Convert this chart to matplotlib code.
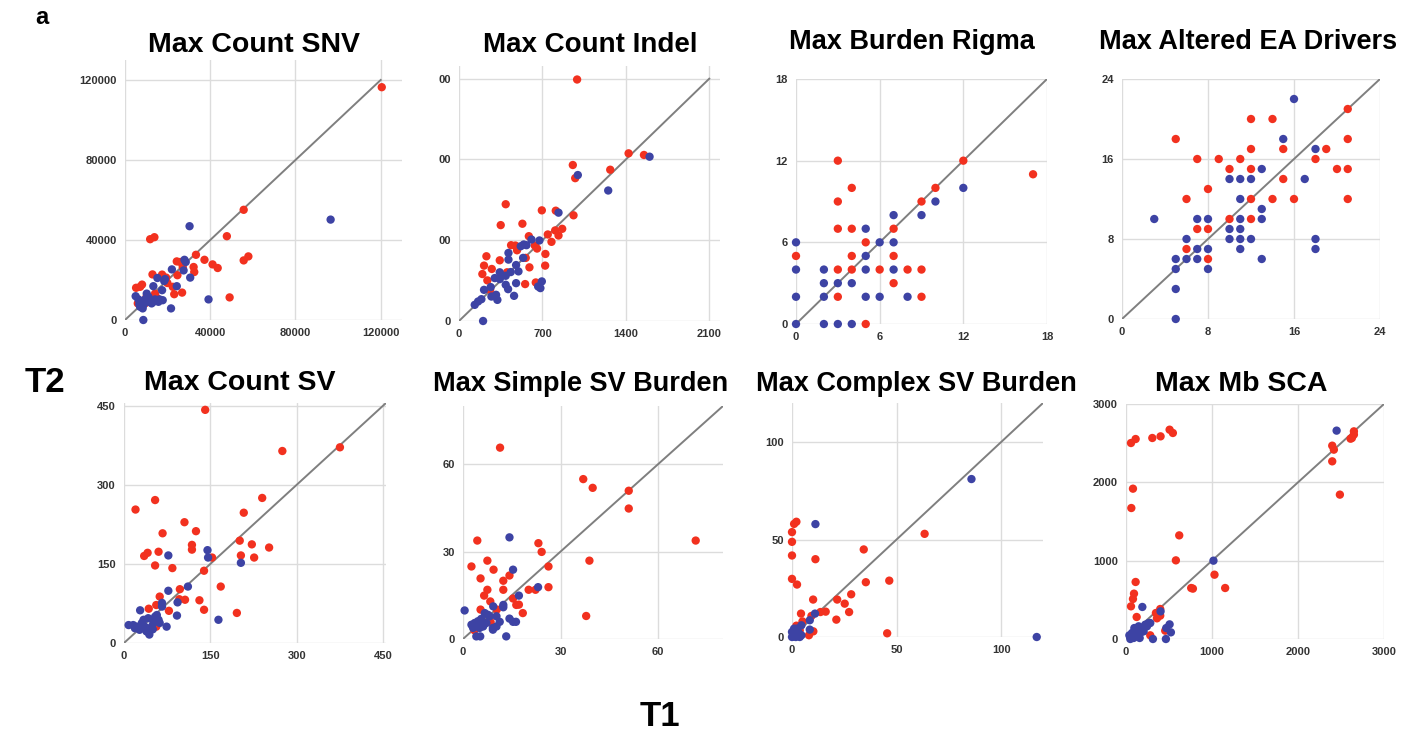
import numpy as np
import matplotlib
matplotlib.use("Agg")
import matplotlib.pyplot as plt

plt.rcParams['font.family'] = ['Liberation Sans', 'DejaVu Sans']

RED = '#f2311f'
BLUE = '#3d43a4'

# ---- Max Count SNV ----
snv_red_x = [120500, 55700, 47800, 11800, 13800, 33300, 37300, 41100, 43500, 55700, 57900, 32200,
             32500, 24300, 25900, 27100, 12900, 17400, 19300, 24600, 22400, 23100, 26800, 19900,
             5200, 8000, 7100, 49100, 14100, 10200, 12500, 9400, 14900, 6000]
snv_red_y = [116400, 55100, 41900, 40400, 41400, 32600, 30100, 27800, 26000, 29800, 31800, 26500,
             24000, 29300, 29000, 26500, 22800, 22700, 21200, 22400, 16600, 12900, 13700, 18500,
             16100, 17700, 16600, 11300, 13200, 11900, 9900, 8300, 11100, 8300]
snv_blue_x = [96500, 30300, 27900, 28500, 27500, 22000, 30600, 15200, 18400, 18800, 24300, 13300,
              17400, 39200, 21600, 8600, 5000, 6300, 7800, 9400, 11000, 12500, 14100, 15700, 17700,
              7100, 8600, 11000, 13300, 16200, 10200, 8300, 6700]
snv_blue_y = [50200, 46900, 30100, 29000, 24800, 25300, 21200, 21000, 19500, 20500, 16900, 16900,
              14900, 10300, 5800, 0, 11900, 10300, 9100, 10300, 9100, 8300, 10300, 9100, 9900,
              6600, 7500, 11600, 9100, 10300, 13200, 5800, 7900]

# ---- Max Count Indel ----
indel_red_x = [991, 1423, 1552, 1269, 955, 975, 392, 695, 812, 961, 350, 532, 586, 745, 807, 866,
               835, 776, 437, 473, 487, 636, 655, 725, 230, 210, 342, 275, 196, 238, 403, 560, 591,
               723, 644, 555, 261]
indel_red_y = [2093, 1453, 1439, 1311, 1352, 1238, 1012, 959, 956, 916, 831, 843, 735, 750, 785,
               799, 741, 686, 657, 654, 613, 654, 628, 581, 561, 480, 526, 451, 407, 352, 422, 547,
               465, 480, 334, 320, 270]
indel_blue_x = [1599, 997, 1252, 835, 608, 675, 543, 566, 518, 415, 538, 415, 479, 499, 342, 434,
                300, 392, 342, 695, 664, 683, 479, 392, 412, 462, 266, 210, 311, 322, 272, 188,
                160, 132, 202, 353]
indel_blue_y = [1424, 1265, 1131, 939, 706, 698, 663, 657, 648, 590, 547, 532, 485, 430, 422, 424,
                372, 392, 363, 343, 299, 285, 328, 314, 276, 218, 294, 270, 227, 183, 212, 189,
                169, 140, 0, 392]

# ---- Max Burden Rigma ----
rigma_red_x = [3, 4, 3, 3, 4, 0, 4, 5, 3, 4, 6, 7, 7, 7, 8, 9, 9, 10, 12, 17, 3, 9, 5]
rigma_red_y = [12, 10, 9, 7, 7, 5, 5, 6, 4, 4, 4, 5, 7, 3, 4, 4, 9, 10, 12, 11, 2, 2, 0]
rigma_blue_x = [0, 0, 0, 0, 2, 2, 2, 2, 3, 3, 4, 4, 5, 5, 5, 5, 6, 6, 7, 7, 7, 8, 9, 10, 12]
rigma_blue_y = [6, 4, 2, 0, 4, 3, 2, 0, 3, 0, 3, 0, 7, 5, 4, 2, 6, 2, 8, 6, 4, 2, 8, 9, 10]

# ---- Max Altered EA Drivers ----
ea_red_x = [5, 6, 7, 8, 7, 8, 6, 8, 9, 10, 10, 11, 12, 12, 12, 12, 12, 14, 14, 15, 15, 16, 18,
            19, 20, 21, 21, 21, 21]
ea_red_y = [18, 12, 16, 13, 9, 9, 7, 6, 16, 15, 10, 16, 20, 17, 15, 12, 10, 20, 12, 17, 14, 12,
            16, 17, 15, 21, 18, 15, 12]
ea_blue_x = [3, 5, 5, 5, 5, 6, 6, 7, 7, 7, 8, 8, 8, 10, 10, 10, 11, 11, 11, 11, 11, 11, 12, 12,
             13, 13, 13, 13, 15, 16, 17, 18, 18, 18]
ea_blue_y = [10, 6, 5, 3, 0, 8, 6, 10, 7, 6, 10, 7, 5, 14, 9, 8, 14, 12, 10, 9, 8, 7, 14, 8, 15,
             11, 10, 6, 18, 22, 14, 17, 8, 7]

# ---- Max Count SV ----
sv_red_x = [141, 275, 375, 240, 208, 20, 54, 105, 125, 67, 118, 118, 201, 222, 252, 203, 226, 153,
            35, 41, 60, 54, 84, 139, 168, 97, 106, 96, 131, 139, 196, 62, 78, 43, 56, 56, 52]
sv_red_y = [442, 364, 371, 275, 247, 253, 271, 229, 212, 208, 186, 177, 194, 187, 181, 166, 162,
            162, 165, 171, 173, 147, 142, 137, 107, 102, 82, 83, 81, 63, 57, 88, 61, 65, 72, 31, 44]
sv_blue_x = [145, 146, 77, 203, 77, 111, 93, 92, 66, 66, 164, 74, 8, 16, 22, 27, 31, 36, 39, 44,
             48, 51, 54, 60, 62, 57, 42, 34, 28, 19, 50]
sv_blue_y = [176, 162, 166, 152, 99, 107, 77, 52, 76, 69, 44, 31, 34, 34, 31, 25, 38, 31, 22, 16,
             31, 38, 50, 44, 38, 53, 47, 44, 62, 28, 26]

# ---- Max Simple SV Burden ----
simple_red_x = [11.4, 37.0, 39.9, 51.0, 51.0, 71.6, 4.4, 23.2, 24.2, 38.9, 2.6, 7.5, 9.4, 26.3,
                5.4, 14.3, 12.4, 12.4, 7.5, 20.2, 22.3, 26.3, 6.5, 8.4, 15.4, 16.4, 17.2, 18.4,
                37.9, 5.4, 10.4, 3.5, 8.5]
simple_red_y = [65.7, 54.9, 51.9, 50.9, 44.8, 33.8, 33.8, 32.9, 29.9, 26.9, 24.9, 26.9, 23.8, 24.9,
                20.8, 21.8, 20.0, 16.9, 16.9, 16.9, 16.9, 17.8, 14.9, 12.9, 13.9, 11.7, 11.8, 8.9,
                7.9, 10.1, 10.1, 3.0, 5.8]
simple_blue_x = [14.3, 15.4, 17.2, 23.1, 0.5, 12.4, 12.4, 14.3, 15.4, 16.3, 13.3, 9.3, 10.3, 2.6,
                 3.6, 4.6, 5.6, 6.2, 7.2, 8.2, 9.2, 10.3, 11.3, 4.1, 5.3, 3.1, 6.7, 7.7, 5.1, 9.2]
simple_blue_y = [34.9, 23.8, 14.9, 17.8, 9.8, 11.7, 10.9, 7.0, 5.9, 5.9, 0.9, 11.2, 7.8, 4.9, 5.5,
                 6.1, 6.9, 4.3, 5.5, 7.8, 3.2, 4.3, 5.9, 0.9, 0.9, 3.8, 8.9, 8.3, 3.8, 3.8]

# ---- Max Complex SV Burden ----
complex_red_x = [2.1, 1.0, 0, 0, 0, 0, 2.4, 11.2, 34.3, 63.4, 35.3, 46.5, 28.3, 21.6, 25.2, 10.1,
                 27.3, 21.2, 16.1, 13.6, 4.3, 5.0, 9.3, 10.2, 8.1, 45.5, 2.1, 3.7]
complex_red_y = [59.1, 58.0, 53.8, 48.8, 41.8, 29.8, 26.9, 39.9, 44.9, 52.9, 28.1, 28.9, 21.9,
                 19.2, 17.1, 19.2, 12.8, 8.9, 13.0, 12.8, 12.0, 8.0, 10.8, 2.9, 0.9, 1.9, 5.8, 3.4]
complex_blue_x = [85.8, 11.2, 117, 11.0, 8.5, 8.5, 4.5, 0, 0.5, 1.3, 2.1, 2.9, 3.7, 0, 1.0, 2.4,
                  4.5, 3.4, 0.5, 1.8]
complex_blue_y = [81.0, 57.9, 0, 12.0, 8.6, 3.8, 6.0, 0, 1.7, 3.4, 0.9, 2.6, 0, 2.6, 4.3, 4.3,
                  0.9, 1.7, 0.3, 0]

# ---- Max Mb SCA ----
sca_red_x = [58, 112, 306, 402, 507, 545, 81, 62, 619, 580, 112, 93, 81, 58, 758, 778, 1029, 1153,
             124, 348, 398, 360, 398, 2398, 2417, 2398, 2487, 2627, 2650, 2650, 2611, 282, 456]
sca_red_y = [2502, 2553, 2566, 2587, 2672, 2630, 1919, 1672, 1323, 1004, 728, 579, 511, 417, 651,
             643, 821, 651, 281, 332, 298, 264, 383, 2468, 2417, 2268, 1843, 2566, 2609, 2651, 2557,
             47, 106]
sca_blue_x = [2449, 1017, 190, 402, 282, 507, 468, 522, 464, 313, 39, 70, 108, 147, 186, 224, 128,
              89, 166, 205, 244, 50, 159, 97, 263]
sca_blue_y = [2660, 1000, 409, 353, 204, 187, 140, 85, 0, 0, 47, 77, 119, 162, 140, 183, 34, 13,
              77, 98, 162, 0, 13, 140, 204]

titles = ['Max Count SNV', 'Max Count Indel', 'Max Burden Rigma', 'Max Altered EA Drivers',
          'Max Count SV', 'Max Simple SV Burden', 'Max Complex SV Burden', 'Max Mb SCA']
series = [
    (snv_red_x, snv_red_y, snv_blue_x, snv_blue_y),
    (indel_red_x, indel_red_y, indel_blue_x, indel_blue_y),
    (rigma_red_x, rigma_red_y, rigma_blue_x, rigma_blue_y),
    (ea_red_x, ea_red_y, ea_blue_x, ea_blue_y),
    (sv_red_x, sv_red_y, sv_blue_x, sv_blue_y),
    (simple_red_x, simple_red_y, simple_blue_x, simple_blue_y),
    (complex_red_x, complex_red_y, complex_blue_x, complex_blue_y),
    (sca_red_x, sca_red_y, sca_blue_x, sca_blue_y),
]
x_ticks = [[0, 40000, 80000, 120000], [0, 700, 1400, 2100], [0, 6, 12, 18], [0, 8, 16, 24],
           [0, 150, 300, 450], [0, 30, 60], [0, 50, 100], [0, 1000, 2000, 3000]]
y_ticks = [[0, 40000, 80000, 120000], [0, 700, 1400, 2100], [0, 6, 12, 18], [0, 8, 16, 24],
           [0, 150, 300, 450], [0, 30, 60], [0, 50, 100], [0, 1000, 2000, 3000]]
y_ticklabels = [None, ['0', '00', '00', '00'], None, None, None, None, None, None]
x_lims = [130000, 2190, 18, 24, 455, 80, 120, 3000]
y_lims = [130000, 2210, 18, 24, 455, 80, 120, 3000]
diag_max = [120000, 2100, 18, 24, 455, 80, 120, 3000]

# plot areas in pixels: left, right, bottom, top
W, H = 1418, 738
boxes = [(125, 402, 320, 60), (459, 720, 321, 66), (796, 1047, 324, 79), (1122, 1380, 319, 79),
         (124, 386, 643, 403), (463, 723, 639, 406), (792, 1043, 637, 403), (1126, 1384, 639, 404)]
title_pos = [(254, 45), (590, 45), (912, 42), (1248, 42),
             (240, 383), (581, 384), (916, 384), (1241, 384)]
title_size = [20.5, 20, 19.5, 19.5, 20.5, 19.5, 19.5, 20.5]

fig = plt.figure(figsize=(W / 100, H / 100), dpi=100)

for i in range(8):
    l, r, b, t = boxes[i]
    ax = fig.add_axes([l / W, 1 - b / H, (r - l) / W, (b - t) / H])
    rx, ry, bx, by = series[i]
    ax.plot([0, diag_max[i]], [0, diag_max[i]], color='#7f7f7f', lw=1.4, zorder=2)
    ax.scatter(rx, ry, s=36, color=RED, edgecolors='none', zorder=3, clip_on=False)
    ax.scatter(bx, by, s=36, color=BLUE, edgecolors='none', zorder=3, clip_on=False)
    ax.set_xlim(0, x_lims[i])
    ax.set_ylim(0, y_lims[i])
    ax.set_xticks(x_ticks[i])
    ax.set_yticks(y_ticks[i])
    if y_ticklabels[i] is not None:
        ax.set_yticklabels(y_ticklabels[i])
    ax.grid(True, color='#dcdcdc', lw=1.0, zorder=0)
    ax.set_axisbelow(True)
    for s in ax.spines.values():
        s.set_visible(False)
    ax.tick_params(length=0, labelsize=8, labelcolor='#333333', pad=6)
    for lab in ax.get_xticklabels() + ax.get_yticklabels():
        lab.set_fontweight('bold')
    tx, ty = title_pos[i]
    fig.text(tx / W, 1 - ty / H, titles[i], ha='center', va='center',
             fontsize=title_size[i], fontweight='bold', color='black')

fig.text(42 / W, 1 - 18 / H, 'a', ha='center', va='center', fontsize=17, fontweight='bold')
fig.text(45 / W, 1 - 383 / H, 'T2', ha='center', va='center', fontsize=25, fontweight='bold')
fig.text(660 / W, 1 - 717 / H, 'T1', ha='center', va='center', fontsize=25, fontweight='bold')

fig.savefig('out.png', dpi=100)
